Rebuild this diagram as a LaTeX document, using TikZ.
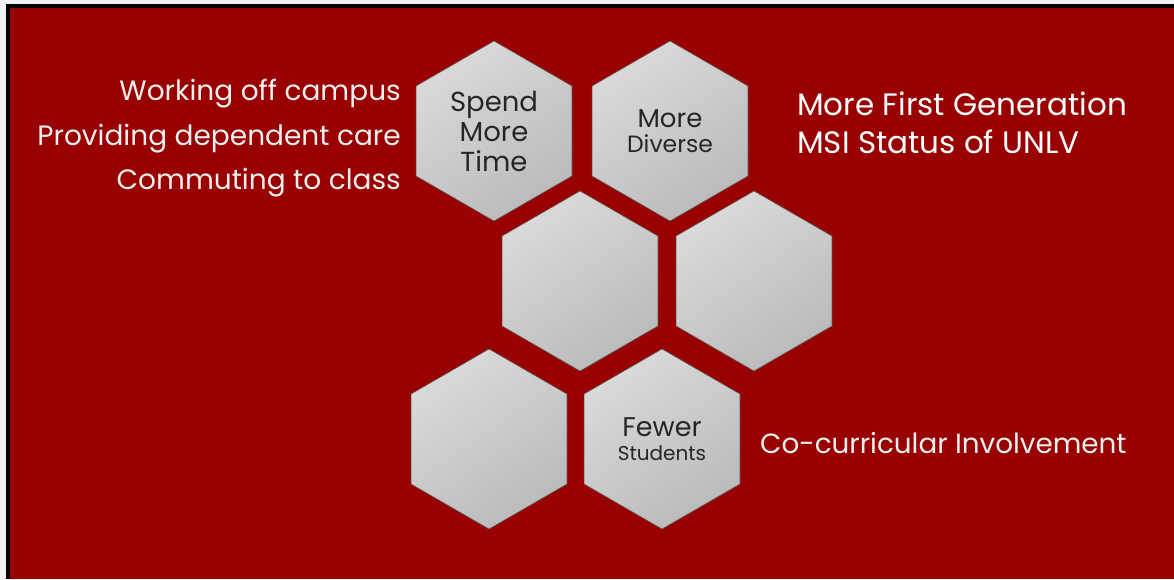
\documentclass[tikz,border=0pt]{standalone}
\usepackage{fontspec}
\setmainfont{Poppins}
\usetikzlibrary{shapes.geometric}

\definecolor{unlvred}{HTML}{990000}
\definecolor{hexedge}{HTML}{5E5E5E}
\definecolor{hexlight}{HTML}{DADADA}
\definecolor{hexdark}{HTML}{BABABA}
\definecolor{sidegray}{HTML}{F0F0F0}

\tikzset{
  hexa/.style={regular polygon, regular polygon sides=6, shape border rotate=30,
    minimum size=180pt, inner sep=0pt, draw=hexedge, line width=0.6pt,
    top color=hexlight, bottom color=hexdark, shading angle=35,
    text=black!85, align=center, font=\fontsize{27.5}{30}\selectfont},
  sidetext/.style={text=sidegray, font=\fontsize{28}{32}\selectfont},
}

\begin{document}
\begin{tikzpicture}[x=1pt,y=-1pt] % pixel grid of the slide

\useasboundingbox (0,0) rectangle (1174,579);
\fill[black!5] (0,0) rectangle (1174,579);
\fill[black] (6,4) rectangle (1174,579);
\fill[unlvred] (10,8) rectangle (1174,579);

% honeycomb
\node [hexa] (spend) at (494,131) {Spend\\More\\Time};
\node [hexa] (diverse) at (670,131) {{\fontsize{26}{30}\selectfont More}\\[-5pt]{\fontsize{23.5}{26}\selectfont Diverse}};
\node [hexa] (midl) at (580,281) {};
\node [hexa] (midr) at (754,281) {};
\node [hexa] (lowl) at (489,439) {};
\node [hexa] (fewer) at (662,439) {{\fontsize{27}{30}\selectfont Fewer}\\[-6pt]{\fontsize{20}{24}\selectfont Students}};

% texts beside the cells
\node [sidetext, anchor=base east, inner sep=0pt] (work) at (401,100) {Working off campus};
\node [sidetext, anchor=base east, inner sep=0pt] (care) at (401,145) {Providing dependent care};
\node [sidetext, anchor=base east, inner sep=0pt] (commute) at (401,189) {Commuting to class};

\node [sidetext, text=white, font=\fontsize{31}{34}\selectfont, anchor=base west, inner sep=0pt] (firstgen) at (797,115) {More First Generation};
\node [sidetext, text=white, font=\fontsize{31}{34}\selectfont, anchor=base west, inner sep=0pt] (msi) at (797,153) {MSI Status of UNLV};

\node [sidetext, font=\fontsize{27.8}{30}\selectfont, anchor=base west, inner sep=0pt] (cocurr) at (760,453) {Co-curricular Involvement};

\end{tikzpicture}
\end{document}
